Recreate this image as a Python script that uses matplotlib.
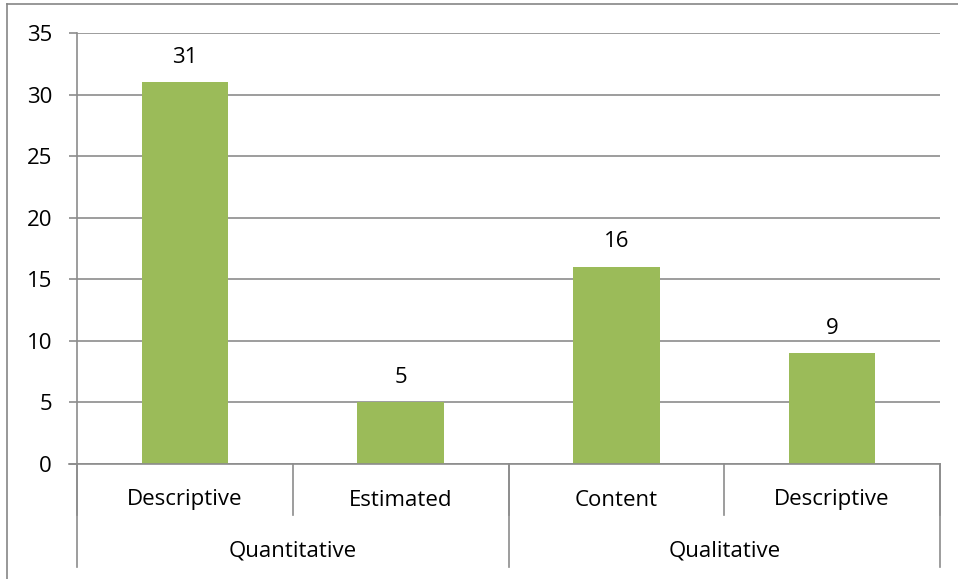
import matplotlib
matplotlib.use("Agg")
import matplotlib.pyplot as plt
from matplotlib.lines import Line2D
from matplotlib.transforms import blended_transform_factory

categories = ["Descriptive", "Estimated", "Content", "Descriptive"]
groups = ["Quantitative", "Qualitative"]
group_sizes = [2, 2]
values = [31, 5, 16, 9]
yticks = [0, 5, 10, 15, 20, 25, 30, 35]

plt.rcParams['font.family'] = ['Open Sans', 'DejaVu Sans']
FS = 16
W, H = 958, 579
fig = plt.figure(figsize=(W / 100, H / 100), dpi=100)
ax = fig.add_axes([77 / W, 1 - 464 / H, (940 - 77) / W, (464 - 33) / H])

bar_color = "#9BBB59"
grid_color = "#8C8C8C"
x = list(range(len(values)))
ax.bar(x, values, width=0.4, color=bar_color, zorder=3)
ax.set_xlim(-0.5, len(values) - 0.5)
ax.set_ylim(0, 35)
ax.set_yticks(yticks)
ax.set_yticklabels([str(t) for t in yticks], fontsize=FS)
ax.tick_params(axis='y', length=6, width=1.2, color=grid_color, pad=12)
ax.set_xticks([])
for s in ["top", "right", "bottom"]:
    ax.spines[s].set_visible(False)
ax.spines["left"].set_color(grid_color)
ax.spines["left"].set_linewidth(1.2)
ax.yaxis.grid(True, color=grid_color, linewidth=1.2, zorder=0)
ax.set_axisbelow(True)

for xi, v in zip(x, values):
    ax.annotate(str(v), (xi, v), xytext=(0, 18), textcoords="offset points",
                ha="center", va="center", fontsize=FS)

# hierarchical category axis
tr = blended_transform_factory(ax.transData, ax.transAxes)
ax_h = 464 - 33
def yax(pix_below):
    return -pix_below / ax_h

ax.add_line(Line2D([-0.5 - 8 / 863 * 4, len(values) - 0.5], [0, 0], transform=tr,
                   color=grid_color, lw=1.2, clip_on=False, zorder=4))
# level 1 separators
for b in [i - 0.5 for i in range(len(values) + 1)]:
    ax.add_line(Line2D([b, b], [0, yax(51)], transform=tr, color=grid_color,
                       lw=1.2, clip_on=False))
for xi, c in zip(x, categories):
    ax.text(xi, yax(36), c, transform=tr, ha="center", va="center", fontsize=FS)
# group separators and labels
start = 0
bounds = [-0.5]
for g, n in zip(groups, group_sizes):
    center = start + (n - 1) / 2
    ax.text(center, yax(87), g, transform=tr, ha="center", va="center", fontsize=FS)
    start += n
    bounds.append(start - 0.5)
for b in bounds:
    ax.add_line(Line2D([b, b], [0, yax(103)], transform=tr, color=grid_color,
                       lw=1.2, clip_on=False))

# outer chart border (partially visible)
fig.add_artist(Line2D([7 / W, 1], [1 - 4 / H, 1 - 4 / H], transform=fig.transFigure,
                      color="#868686", lw=1.2))
fig.add_artist(Line2D([7 / W, 7 / W], [1 - 4 / H, 0], transform=fig.transFigure,
                      color="#868686", lw=1.2))

fig.savefig("out.png", dpi=100)
